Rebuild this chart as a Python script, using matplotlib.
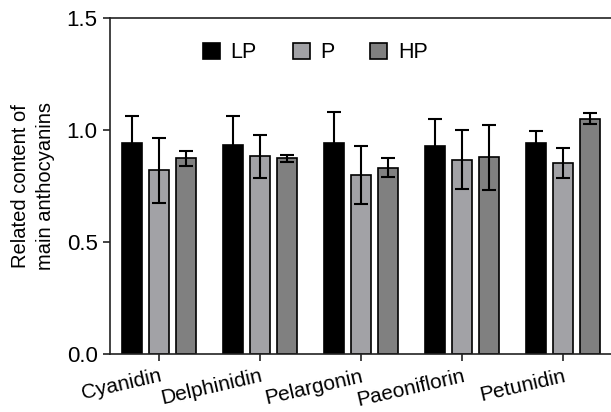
import numpy as np
import matplotlib.pyplot as plt

plt.rcParams['font.family'] = ['Liberation Sans', 'DejaVu Sans']

# anthocyanin content per group
compounds = ["Cyanidin", "Delphinidin", "Pelargonin", "Paeoniflorin", "Petunidin"]
lp = [0.943, 0.932, 0.940, 0.930, 0.943]
p = [0.820, 0.882, 0.798, 0.868, 0.854]
hp = [0.873, 0.873, 0.832, 0.878, 1.050]
lp_err = [0.118, 0.132, 0.139, 0.118, 0.051]
p_err = [0.145, 0.096, 0.130, 0.130, 0.067]
hp_err = [0.035, 0.017, 0.043, 0.146, 0.024]

x = np.arange(len(compounds))
w = 0.2
off = 0.265

fig = plt.figure(figsize=(6.11, 4.12), dpi=100)
ax = fig.add_axes([110/611, 1 - 354/412, 1 - 110/611 + 0.01, (354 - 18)/412])

err_kw = dict(ecolor='black', elinewidth=1.5, capsize=5, capthick=1.5)
ax.bar(x - off, lp, w, yerr=lp_err, color='black', edgecolor='black', linewidth=1.2, label='LP', error_kw=err_kw)
ax.bar(x, p, w, yerr=p_err, color='#a2a2a6', edgecolor='black', linewidth=1.2, label='P', error_kw=err_kw)
ax.bar(x + off, hp, w, yerr=hp_err, color='#808080', edgecolor='black', linewidth=1.2, label='HP', error_kw=err_kw)

ax.set_xlim(-0.485, 4.475 + 0.06)
ax.set_ylim(0, 1.5)
ax.set_yticks([0.0, 0.5, 1.0, 1.5])
ax.set_yticklabels(['0.0', '0.5', '1.0', '1.5'], fontsize=16)
ax.set_xticks(x)
ax.set_xticklabels(compounds, fontsize=15, rotation=13, ha='right', rotation_mode='anchor')

ax.spines['right'].set_visible(False)
for s in ['left', 'bottom', 'top']:
    ax.spines[s].set_linewidth(1.2)
    ax.spines[s].set_color('#222222')
ax.tick_params(axis='both', width=1.2, length=5, color='#222222')
ax.tick_params(axis='x', pad=4)
ax.tick_params(axis='y', pad=4)

ax.set_ylabel("Related content of\nmain anthocyanins", fontsize=14.5, labelpad=8, linespacing=1.4)

ax.legend(loc='upper center', bbox_to_anchor=(0.405, 0.985), ncol=3, frameon=False,
          fontsize=15.5, handlelength=0.8, handleheight=0.8, columnspacing=1.65, handletextpad=0.5)

fig.savefig('out.png', dpi=100)
